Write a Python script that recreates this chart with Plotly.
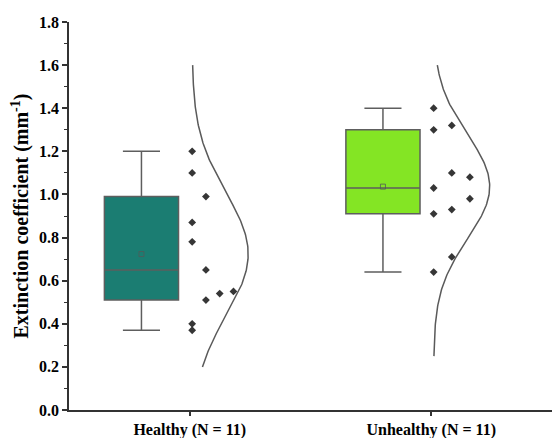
import numpy as np
import plotly.graph_objects as go

categories = ["Healthy (N = 11)", "Unhealthy (N = 11)"]
healthy = [1.20, 1.10, 0.99, 0.87, 0.78, 0.65, 0.54, 0.55, 0.51, 0.40, 0.37]
unhealthy = [1.40, 1.30, 1.32, 1.10, 1.08, 1.03, 0.98, 0.93, 0.91, 0.71, 0.64]
# swarm column index of each point (beeswarm layout)
healthy_cols = [0, 0, 1, 0, 0, 1, 2, 3, 1, 0, 0]
unhealthy_cols = [0, 0, 1, 1, 2, 0, 2, 1, 0, 1, 0]
curve_ranges = [[0.20, 1.60], [0.25, 1.60]]
y_ticks = [0.0, 0.2, 0.4, 0.6, 0.8, 1.0, 1.2, 1.4, 1.6, 1.8]

fills = ["#1B7D72", "#84E524"]
col_step = [0.057, 0.075]
FONT = "Liberation Serif"

fig = go.Figure()
groups = [healthy, unhealthy]
cols = [healthy_cols, unhealthy_cols]
for i, (vals, cidx) in enumerate(zip(groups, cols)):
    fig.add_trace(go.Box(
        y=vals, x0=i - 0.2, width=0.307, name=categories[i],
        fillcolor=fills[i], line=dict(color="#5E5E5E", width=1.5),
        boxpoints=False, quartilemethod="exclusive", whiskerwidth=0.5,
        showlegend=False, hoverinfo="skip"))
    mean = float(np.mean(vals))
    fig.add_trace(go.Scatter(
        x=[i - 0.2], y=[mean], mode="markers",
        marker=dict(symbol="square-open", size=5, color="#505A58", line=dict(width=0.8)),
        showlegend=False, hoverinfo="skip"))
    xs = [i + 0.01 + c * col_step[i] for c in cidx]
    fig.add_trace(go.Scatter(
        x=xs, y=vals, mode="markers",
        marker=dict(symbol="diamond", size=6, color="#363636"),
        showlegend=False, hoverinfo="skip"))
    sd = float(np.std(vals, ddof=1))
    yy = np.linspace(curve_ranges[i][0], curve_ranges[i][1], 200)
    dens = np.exp(-0.5 * ((yy - mean) / sd) ** 2)
    fig.add_trace(go.Scatter(
        x=i + 0.01 + 0.232 * dens, y=yy, mode="lines",
        line=dict(color="#5A5A5A", width=1.5),
        showlegend=False, hoverinfo="skip"))

fig.update_layout(
    width=552, height=438,
    margin=dict(l=69, r=0, t=22, b=28),
    plot_bgcolor="white", paper_bgcolor="white",
    font=dict(family=FONT, size=16, color="black"),
)
fig.update_xaxes(
    range=[-0.5, 1.5], tickvals=[0, 1], ticktext=categories,
    showline=True, linecolor="#333", linewidth=1.5,
    ticks="outside", ticklen=4, tickcolor="#333", tickwidth=1.5,
    showgrid=False, zeroline=False,
    tickfont=dict(family=FONT, size=16, weight="bold"))
fig.update_yaxes(
    range=[0, 1.8], tickvals=y_ticks, tickformat=".1f",
    showline=True, linecolor="#333", linewidth=1.5,
    ticks="outside", ticklen=5, tickcolor="#333", tickwidth=1.5,
    minor=dict(dtick=0.1, ticks="outside", ticklen=3, tickcolor="#333", tickwidth=1.2),
    showgrid=False, zeroline=False,
    tickfont=dict(family=FONT, size=16, weight="bold"),
    title=dict(text="Extinction coefficient (mm<sup>-1</sup>)",
               font=dict(family=FONT, size=20, weight="bold"), standoff=5))

fig.write_html("out.html", config={"displayModeBar": False},
               post_script="document.body.style.margin='0';document.body.style.overflow='hidden';")
